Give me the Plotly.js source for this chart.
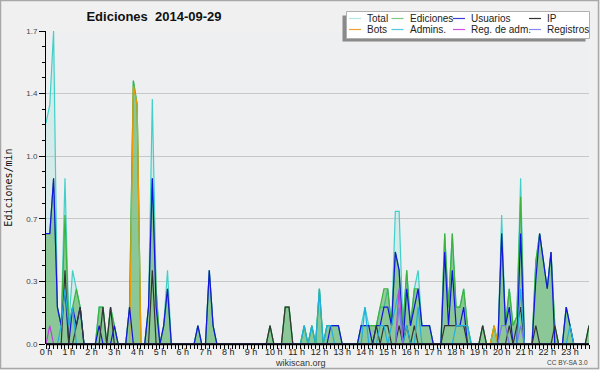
<!DOCTYPE html>
<html><head><meta charset="utf-8">
<script src="https://cdn.plot.ly/plotly-3.0.1.min.js"></script>
<style>html,body{margin:0;padding:0;background:#f0f0f0}#chart{width:600px;height:370px}</style>
</head><body><div id="chart"></div>
<script>
// 10-minute bins, 144 per day; values in edits/min
const binsPerHour = 6;
const hourLabels = ['0 h','1 h','2 h','3 h','4 h','5 h','6 h','7 h','8 h','9 h','10 h','11 h','12 h','13 h','14 h','15 h','16 h','17 h','18 h','19 h','20 h','21 h','22 h','23 h'];
const yTickVals = [0, 0.34, 0.68, 1.02, 1.36, 1.7];
const yTickText = ['0.0','0.3','0.7','1.0','1.4','1.7'];

const total = [
 1.2,1.3,1.7,0.2,0.1,0.9,  0.1,0.4,0.3,0.2,0,0,  0,0,0.2,0.2,0,0.2,  0.1,0,0,0,0.2,1.43,
 1.3,0,0,0.2,1.33,0.3,  0,0.1,0.4,0,0,0,  0,0,0,0,0.1,0,  0,0.4,0.1,0,0,0,
 0,0,0,0,0,0,  0,0,0,0,0,0.1,  0,0,0,0.2,0.2,0,  0,0,0.1,0,0.1,0,
 0.3,0,0.1,0.1,0.1,0.1,  0,0,0,0,0,0.1,  0.2,0.1,0.1,0.1,0.2,0.2,  0.3,0.1,0.72,0.72,0.1,0.4,
 0.1,0.3,0.4,0.1,0.1,0.1,  0,0,0,0.6,0.2,0.6,  0.2,0.2,0.3,0.1,0,0,  0,0.1,0,0,0.1,0,
 0.7,0.1,0.3,0.1,0.15,0.9,  0,0,0,0.45,0.6,0.45,  0.3,0.5,0.1,0,0,0.2,  0.1,0,0,0,0,0.1];
const ediciones = [
 0.6,0.6,0.9,0.2,0.1,0.7,  0.1,0.2,0.3,0.2,0,0,  0,0,0.2,0.2,0,0.2,  0.1,0,0,0,0.2,1.43,
 1.3,0,0,0.2,0.9,0.3,  0,0.1,0.3,0,0,0,  0,0,0,0,0.1,0,  0,0.4,0.1,0,0,0,
 0,0,0,0,0,0,  0,0,0,0,0,0.1,  0,0,0,0.2,0.2,0,  0,0,0.1,0,0.1,0,
 0.3,0,0.1,0.1,0.1,0.1,  0,0,0,0,0,0.1,  0.1,0.1,0.1,0.1,0.2,0.3,  0.3,0.1,0.5,0.4,0.1,0.4,
 0.1,0.3,0.3,0.1,0.1,0.1,  0,0,0,0.6,0.2,0.6,  0.2,0.2,0.3,0.1,0,0,  0,0.1,0,0,0.1,0,
 0.6,0.1,0.3,0.1,0.15,0.8,  0,0,0,0.45,0.6,0.45,  0.3,0.5,0.1,0,0,0.2,  0.1,0,0,0,0,0.1];
const usuarios = [
 0.6,0.6,0.9,0.2,0.1,0.3,  0,0.2,0.1,0.2,0,0,  0,0,0.1,0,0,0,  0.1,0,0,0,0.2,0,
 0,0,0,0.2,0.9,0.2,  0,0.1,0.3,0,0,0,  0,0,0,0,0.1,0,  0,0.4,0.1,0,0,0,
 0,0,0,0,0,0,  0,0,0,0,0,0,  0,0,0,0,0,0,  0,0,0,0,0,0,
 0,0,0,0.1,0.1,0.1,  0,0,0,0,0,0.1,  0.1,0.1,0,0.1,0.1,0.2,  0.2,0.1,0.5,0.4,0,0.3,
 0.1,0.2,0.3,0.1,0.1,0.1,  0,0,0,0.5,0.1,0.4,  0.1,0.1,0.2,0,0,0,  0,0,0,0,0,0,
 0.6,0.1,0.2,0,0,0.6,  0,0,0,0.35,0.6,0.45,  0.3,0.5,0,0,0,0.2,  0.1,0,0,0,0,0];
const ip = [
 0,0,0,0,0,0.4,  0,0,0.1,0.2,0,0,  0,0,0,0.2,0,0.2,  0,0,0,0,0,0,
 0,0,0,0,0.4,0,  0,0,0,0,0,0,  0,0,0,0,0,0,  0,0,0,0,0,0,
 0,0,0,0,0,0,  0,0,0,0,0,0.1,  0,0,0,0.2,0.2,0,  0,0,0,0,0,0,
 0,0,0,0,0,0,  0,0,0,0,0,0,  0,0,0,0.1,0,0.1,  0.1,0,0,0.1,0,0.1,
 0,0.1,0,0,0,0,  0,0,0,0.1,0.1,0.1,  0.1,0.1,0.1,0,0,0,  0,0.1,0,0,0,0,
 0,0,0.1,0,0.1,0.2,  0,0,0,0.1,0,0,  0,0,0.1,0,0,0,  0,0,0,0,0,0.1];
const bots = [
 0,0,0,0,0,0,  0,0,0,0,0,0,  0,0,0,0,0,0,  0,0,0,0,0,1.4,
 1.3,0,0,0,0,0,  0,0,0,0,0,0,  0,0,0,0,0,0,  0,0,0,0,0,0,
 0,0,0,0,0,0,  0,0,0,0,0,0,  0,0,0,0,0,0,  0,0,0,0,0,0,
 0,0,0,0,0,0,  0,0,0,0,0,0,  0,0,0,0,0,0,  0,0,0,0,0,0,
 0,0,0,0,0,0,  0,0,0,0,0,0,  0,0,0,0,0,0,  0,0,0,0,0.1,0,
 0,0,0,0,0,0,  0,0,0,0,0,0,  0,0,0,0,0,0,  0,0,0,0,0,0];
const admins = [
 0,0,0,0,0.1,0.3,  0.1,0.2,0,0,0,0,  0,0,0,0,0,0,  0,0,0,0,0,0,
 0,0,0,0,0,0,  0,0,0,0,0,0,  0,0,0,0,0,0,  0,0,0,0,0,0,
 0,0,0,0,0,0,  0,0,0,0,0,0,  0,0,0,0,0,0,  0,0,0.1,0,0.1,0,
 0.3,0,0.1,0.1,0,0,  0,0,0,0,0,0,  0.2,0,0,0,0.1,0.1,  0,0.1,0.2,0.3,0,0.1,
 0,0,0.2,0,0,0,  0,0,0,0,0,0,  0.1,0.1,0.1,0.1,0,0,  0,0,0,0,0,0,
 0,0,0,0,0,0.3,  0,0,0,0,0,0,  0,0,0,0,0,0,  0.1,0,0,0,0,0];
const regAdm = [
 0,0.1,0,0,0,0,  0,0,0,0,0,0,  0,0,0,0,0,0,  0,0,0,0,0,0,
 0,0,0,0,0,0,  0,0,0,0,0,0,  0,0,0,0,0,0,  0,0,0,0,0,0,
 0,0,0,0,0,0,  0,0,0,0,0,0,  0,0,0,0,0,0,  0,0,0,0,0,0,
 0,0,0,0,0,0,  0,0,0,0,0,0,  0,0,0,0,0,0,  0,0,0,0.3,0,0,
 0,0,0,0,0,0,  0,0,0,0,0,0,  0,0,0,0,0,0,  0,0,0,0,0,0,
 0,0,0,0,0,0,  0,0,0,0,0,0,  0,0,0,0,0,0,  0,0,0,0,0,0];
const registros = [
 0,0,0,0,0,0,  0,0,0,0,0,0,  0,0,0,0,0,0,  0,0,0,0,0,0,
 0,0,0,0,0,0,  0,0,0,0,0,0,  0,0,0,0,0,0,  0,0,0,0,0,0,
 0,0,0,0,0,0,  0,0,0,0,0,0,  0,0,0,0,0,0,  0,0,0,0,0,0,
 0,0,0,0,0,0,  0,0,0,0,0,0,  0,0,0,0,0,0,  0,0,0,0.2,0,0,
 0,0,0,0,0,0,  0,0,0,0,0,0,  0,0,0,0,0,0,  0,0,0,0,0,0,
 0.1,0.1,0,0,0,0.1,  0,0,0,0,0,0,  0,0,0,0,0,0,  0,0,0,0,0,0];

const seriesNames = ['Total','Ediciones','Usuarios','IP','Bots','Admins.','Reg. de adm.','Registros'];
const lineColors  = ['#40d0c8','#3cb43c','#1414e0','#333333','#f09a00','#20b0e0','#c040e0','#7a78f0'];
const legendColors= ['#b4e4e4','#7cc87c','#3c3cd8','#333333','#f0a030','#50c8e0','#d050e0','#8888f0'];

const times = total.map((_, i) => i / binsPerHour);
const W = 600, H = 370, M = {l: 46, r: 11, t: 31, b: 26};
const pw = W - M.l - M.r, ph = H - M.t - M.b;
const X = p => (p - M.l) / pw, Y = p => (H - M.b - p) / ph;

const dataBy = [total, ediciones, usuarios, ip, bots, admins, regAdm, registros];
const drawOrder = [0, 1, 4, 2, 3, 5, 6, 7];
const traces = drawOrder.map(k => {
  const t = {x: times, y: dataBy[k], type: 'scatter', mode: 'lines', name: seriesNames[k],
    line: {color: lineColors[k], width: 1.2}, showlegend: false, hoverinfo: 'skip'};
  if (k === 0) { t.fill = 'tozeroy'; t.fillcolor = 'rgba(90,220,200,0.17)'; }
  if (k === 1) { t.fill = 'tozeroy'; t.fillcolor = 'rgba(60,160,60,0.48)'; }
  return t;
});

// legend drawn as shapes + text
const legCols = [349, 391.5, 453, 529];
const legRows = [18.5, 29.5];
const shapes = [
  {type:'rect', xref:'paper', yref:'paper', x0:X(0.5), x1:X(598.5), y0:Y(0.5), y1:Y(368.5), line:{color:'#a8a8a8', width:1.5}, layer:'above'},
  // baseline (x axis line) drawn over the zero-valued parts of the series
  {type:'line', xref:'paper', yref:'paper', x0:0, x1:1, y0:Y(344.3), y1:Y(344.3), line:{color:'#000', width:2}, layer:'above'},
  {type:'rect', xref:'paper', yref:'paper', x0:X(342.5), x1:X(585.5), y0:Y(15.5), y1:Y(41.5), fillcolor:'#8a8a8a', line:{width:0}, layer:'above'},
  {type:'rect', xref:'paper', yref:'paper', x0:X(346.5), x1:X(589.5), y0:Y(11.5), y1:Y(38.5), fillcolor:'#ffffff', line:{color:'#b0b0b0', width:1}, layer:'above'}
];
const annotations = [
  {text:'wikiscan.org', xref:'paper', yref:'paper', x:X(300.5), y:Y(362.5), xanchor:'center', yanchor:'middle', showarrow:false, font:{family:'Liberation Sans', size:9, color:'#333'}},
  {text:'CC BY-SA 3.0', xref:'paper', yref:'paper', x:X(590), y:Y(362.5), xanchor:'right', yanchor:'middle', showarrow:false, font:{family:'Liberation Sans', size:6.5, color:'#444'}}
];
seriesNames.forEach((n, k) => {
  const c = k % 4, r = Math.floor(k / 4);
  const lx = legCols[c], ly = legRows[r];
  shapes.push({type:'line', xref:'paper', yref:'paper', x0:X(lx), x1:X(lx+12), y0:Y(ly), y1:Y(ly), line:{color:legendColors[k], width:1.2}, layer:'above'});
  annotations.push({text:n, xref:'paper', yref:'paper', x:X(lx+16), y:Y(ly), xanchor:'left', yanchor:'middle', showarrow:false, font:{family:'Liberation Sans', size:10, color:'#222'}});
});

const layout = {
  width: W, height: H,
  margin: M,
  paper_bgcolor: '#f0f0f0', plot_bgcolor: '#eeeff1',
  title: {text: 'Ediciones\u00a0 2014-09-29', xref:'container', yref:'container', x: 154/W, y: 1 - 16.5/H, xanchor:'center', yanchor:'middle',
          font: {family:'Liberation Sans', size:13, color:'#111', weight:'bold'}},
  xaxis: {range:[0, (total.length-1)/binsPerHour], tickmode:'array', tickvals: hourLabels.map((_, h) => h), ticktext: hourLabels,
          ticks:'outside', ticklen:4, tickwidth:1, tickcolor:'#000', showline:false,
          showgrid:false, zeroline:false, fixedrange:true, ticklabelstandoff:-5,
          minor:{dtick:1/binsPerHour, tick0:0, ticks:'outside', ticklen:4, tickcolor:'#000', tickwidth:1},
          tickfont:{family:'Liberation Sans', size:9, color:'#222'}},
  yaxis: {range:[0, 1.7], tickmode:'array', tickvals:yTickVals, ticktext:yTickText,
          ticks:'outside', ticklen:6, tickcolor:'#000', showline:true, linecolor:'#000', linewidth:1,
          showgrid:true, gridcolor:'#c8c8c8', gridwidth:1, zeroline:false, fixedrange:true,
          minor:{dtick:0.085, tick0:0, ticks:'outside', ticklen:3, tickcolor:'#000', showgrid:false},
          tickfont:{family:'Liberation Sans', size:8, color:'#444'},
          title:{text:'Ediciones/min', font:{family:'DejaVu Sans Mono', size:10, color:'#111'}, standoff:11}},
  shapes, annotations,
  showlegend: false
};
Plotly.newPlot('chart', traces, layout, {staticPlot:true, displayModeBar:false});
</script></body></html>
